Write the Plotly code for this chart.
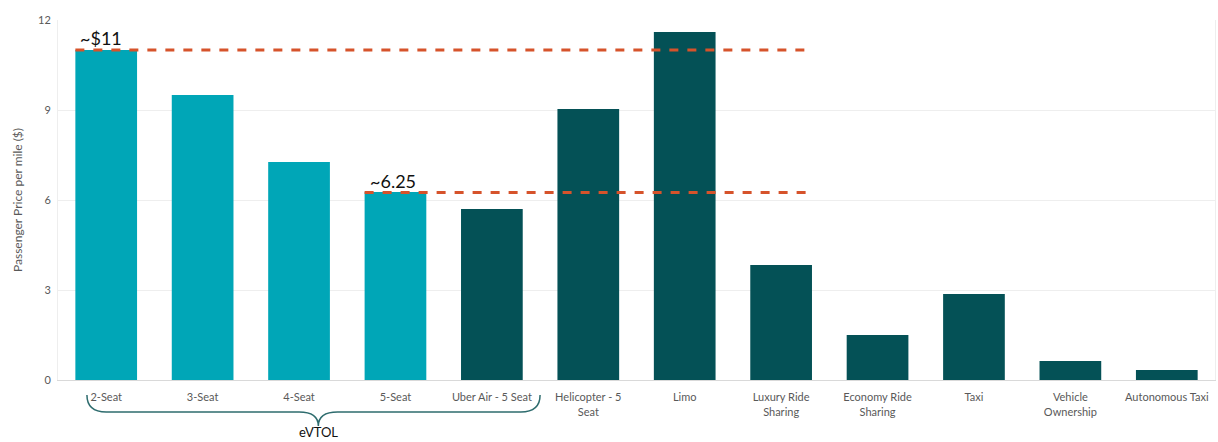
import plotly.graph_objects as go

categories = ["2-Seat", "3-Seat", "4-Seat", "5-Seat", "Uber Air - 5 Seat",
              "Helicopter - 5<br>Seat", "Limo", "Luxury Ride<br>Sharing",
              "Economy Ride<br>Sharing", "Taxi", "Vehicle<br>Ownership", "Autonomous Taxi"]
values = [11.0, 9.5, 7.27, 6.27, 5.7, 9.03, 11.6, 3.83, 1.5, 2.87, 0.63, 0.33]
is_evtol_concept = [True, True, True, True, False, False, False, False, False, False, False, False]
ref_levels = [11.0, 6.25]
ref_labels = ["~$11", "~6.25"]
ref_start_idx = [0, 3]
ref_end_idx = 7
y_ticks = [0, 3, 6, 9, 12]

LIGHT = "#00A6B7"
DARK = "#045156"
colors = [LIGHT if f else DARK for f in is_evtol_concept]
bargap = 0.36
half = (1 - bargap) / 2

fig = go.Figure()
fig.add_trace(go.Bar(x=categories, y=values, marker=dict(color=colors, line=dict(width=0)),
                     showlegend=False, hoverinfo="x+y"))

shapes = []
annotations = []
for lvl, lab, s in zip(ref_levels, ref_labels, ref_start_idx):
    shapes.append(dict(type="line", xref="x", yref="y", x0=s - half, x1=ref_end_idx + 0.26,
                       y0=lvl, y1=lvl, line=dict(color="#D6532B", width=3, dash="dash")))
    annotations.append(dict(x=s - half + 0.03, y=lvl, xref="x", yref="y", text=lab,
                            showarrow=False, xanchor="left", yanchor="bottom", yshift=-1,
                            font=dict(family="Lato, Open Sans, sans-serif", size=18, color="#111111")))

# eVTOL bracket (under categories 0..4)
x0b, x1b, xm = -0.2, 4.5, 2.2
y_top, y_mid, y_tip = -0.042, -0.089, -0.128
path = (f"M {x0b},{y_top} Q {x0b},{y_mid} {x0b+0.2},{y_mid} L {xm-0.2},{y_mid} "
        f"Q {xm},{y_mid} {xm},{y_tip} Q {xm},{y_mid} {xm+0.2},{y_mid} "
        f"L {x1b-0.2},{y_mid} Q {x1b},{y_mid} {x1b},{y_top}")
shapes.append(dict(type="path", xref="x", yref="paper", path=path,
                   line=dict(color="#2E6C6E", width=1.5)))
annotations.append(dict(x=xm, y=-0.145, xref="x", yref="paper", text="eVTOL", showarrow=False,
                        xanchor="center", yanchor="middle",
                        font=dict(family="Lato, Open Sans, sans-serif", size=13, color="#111111")))

fig.update_layout(
    width=1218, height=442,
    margin=dict(l=58, r=3, t=20, b=62),
    paper_bgcolor="white", plot_bgcolor="white",
    bargap=bargap,
    shapes=shapes, annotations=annotations,
    font=dict(family="Lato, Open Sans, sans-serif", color="#595959", size=11),
    xaxis=dict(showgrid=False, showline=True, linecolor="#D9D9D9", linewidth=1,
               tickfont=dict(size=11, color="#595959"), ticks="", ticklabelstandoff=7),
    yaxis=dict(range=[0, 12], tickvals=y_ticks, showgrid=True, gridcolor="#EEEEEE",
               zeroline=False, showline=True, linecolor="#EEEEEE", mirror=True,
               ticks="", tickfont=dict(size=11, color="#595959"), ticklabelstandoff=4,
               title=dict(text="Passenger Price per mile ($)", font=dict(size=12, color="#595959"),
                          standoff=12)),
)

fig.write_html("out.html")
